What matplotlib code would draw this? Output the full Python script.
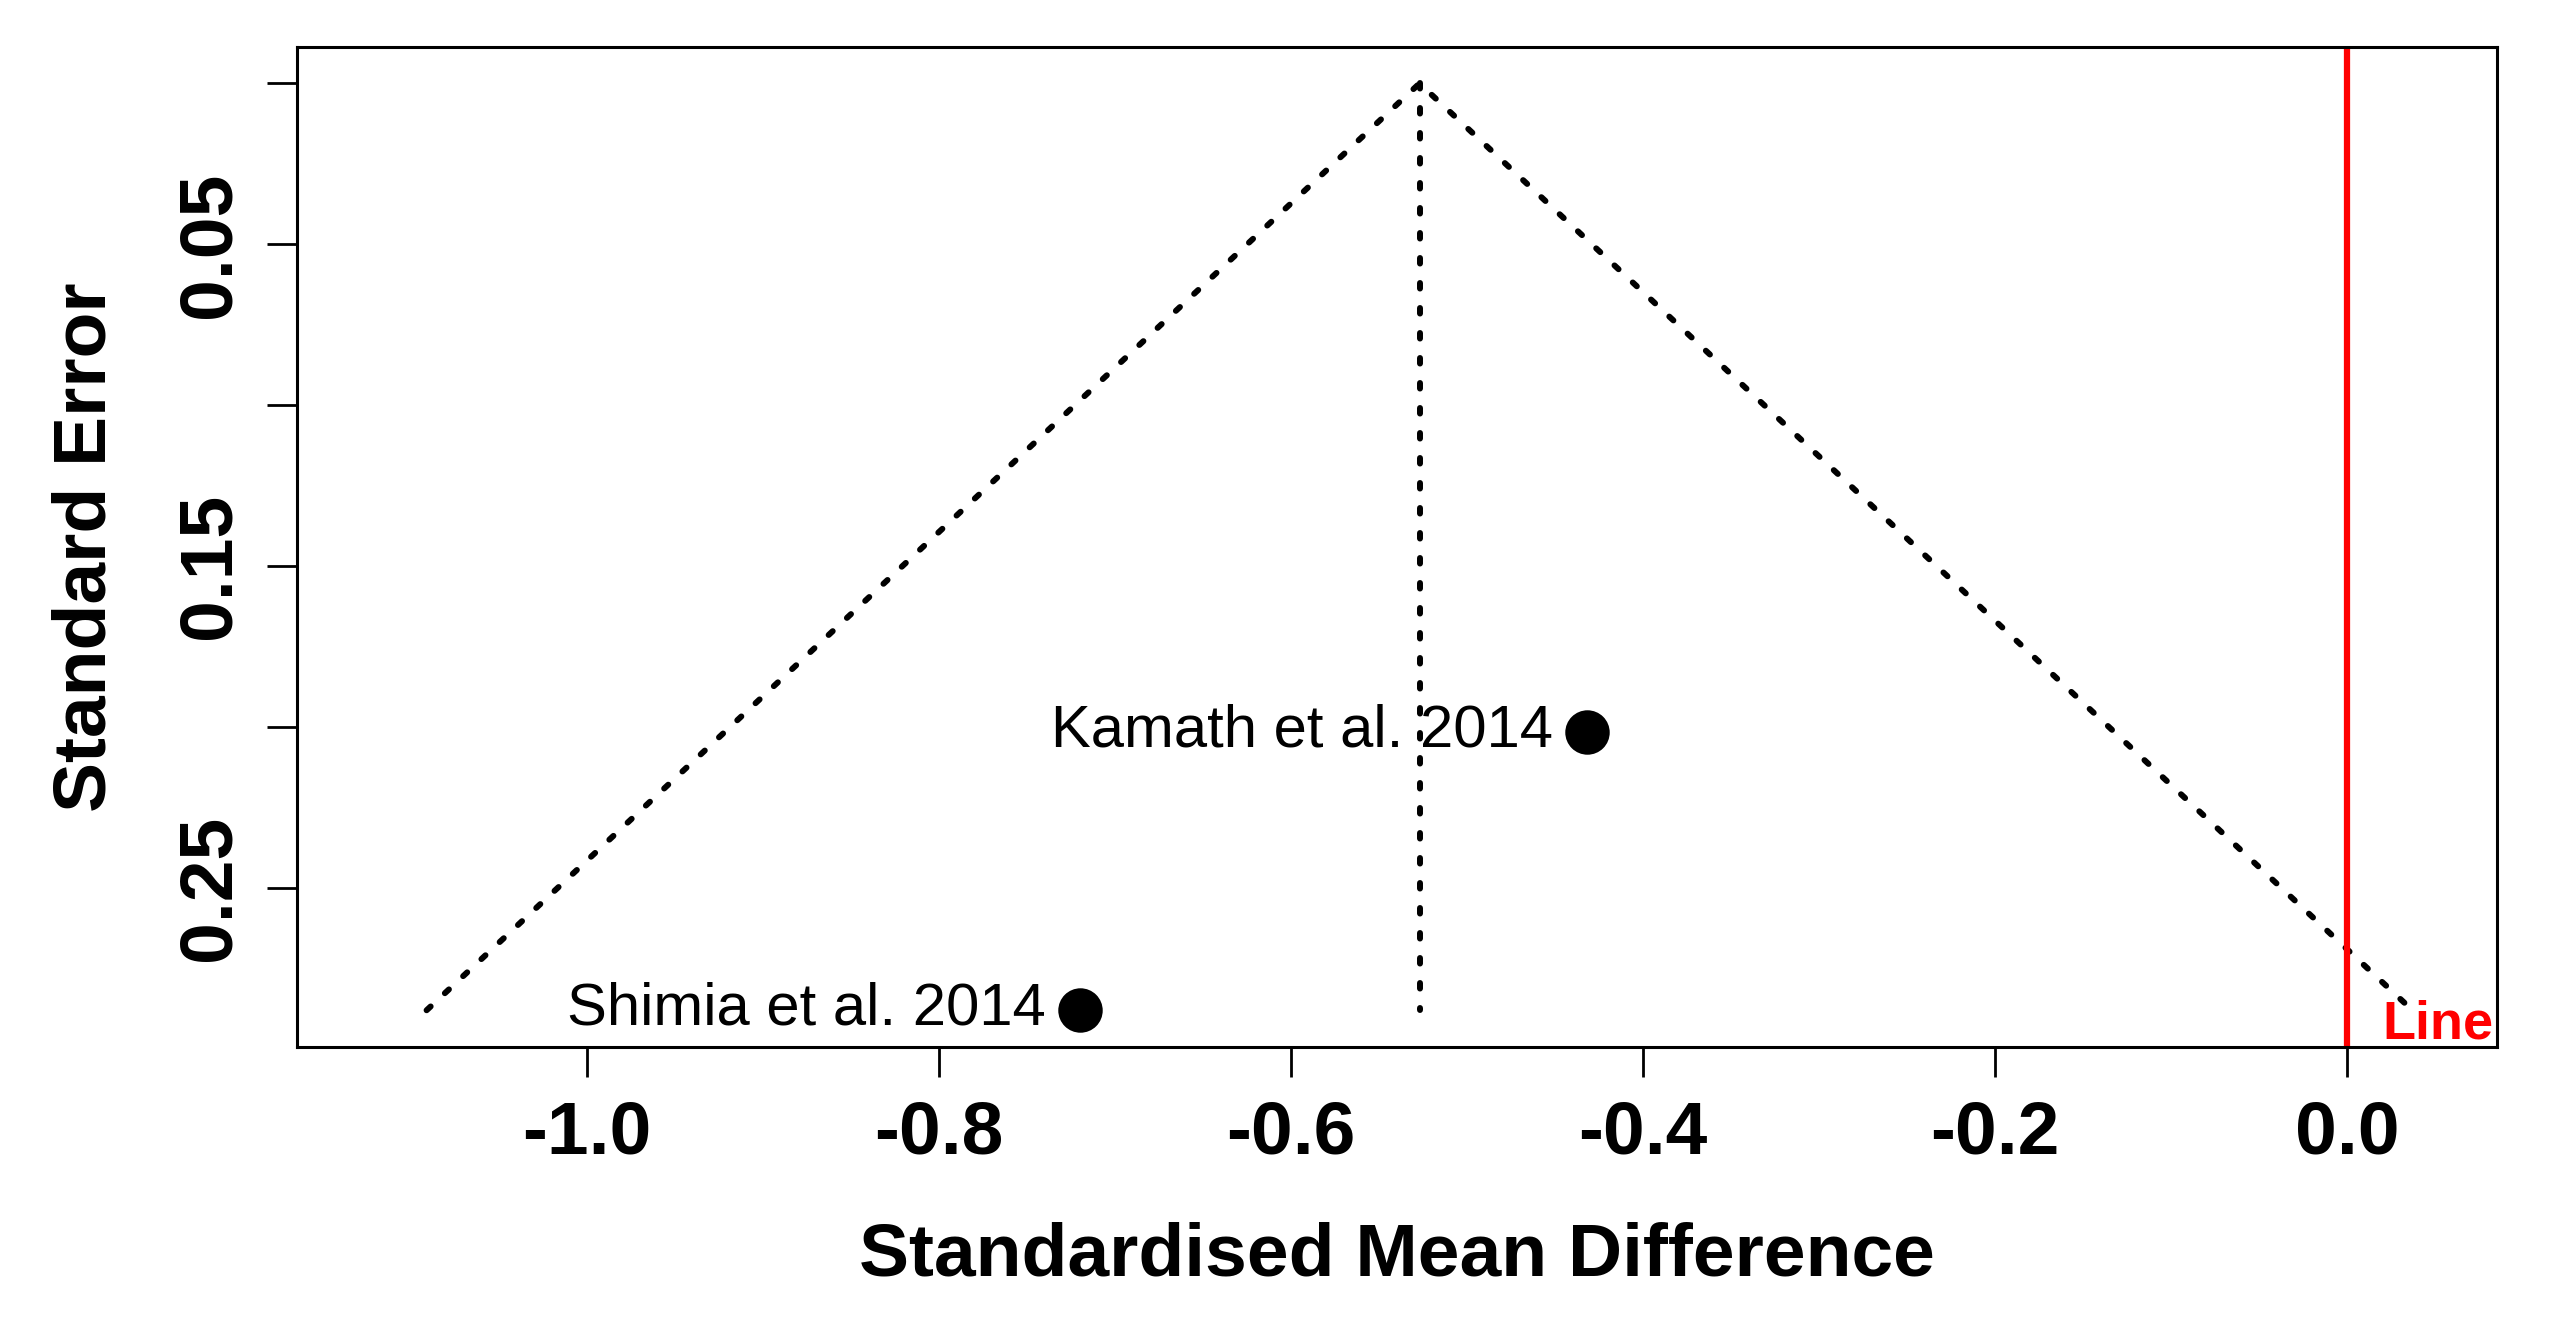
import matplotlib
matplotlib.use("Agg")
import matplotlib.pyplot as plt

plt.rcParams["font.family"] = ["Liberation Sans", "DejaVu Sans"]
plt.rcParams["lines.scale_dashes"] = False

# study data
studies = ["Kamath et al. 2014", "Shimia et al. 2014"]
smd = [-0.432, -0.720]
se = [0.2015, 0.288]

# summary estimate and funnel edges at the largest standard error
estimate = -0.527
se_max = 0.288
funnel_left = -1.091
funnel_right = 0.037

xticks = [-1.0, -0.8, -0.6, -0.4, -0.2, 0.0]
xtick_labels = ["-1.0", "-0.8", "-0.6", "-0.4", "-0.2", "0.0"]
yticks = [0.0, 0.05, 0.10, 0.15, 0.20, 0.25]
ytick_labels = ["", "0.05", "", "0.15", "", "0.25"]

fig = plt.figure(figsize=(25.73, 13.33), dpi=100)
ax = fig.add_axes([0.1153, 0.2146, 0.8552, 0.7501])

dots = (4.0, 14.0)
ax.plot([funnel_left, estimate, funnel_right], [se_max, 0, se_max],
        color="black", lw=4.3, dashes=dots, dash_capstyle="round")
ax.plot([estimate, estimate], [0, se_max],
        color="black", lw=4.3, dashes=dots, dash_capstyle="round")

ax.axvline(0, color="red", lw=4.5)
ax.text(0.0199, 0.2968, "Line", color="red", fontsize=39, fontweight="bold",
        ha="left", va="baseline")

ax.plot(smd, se, "o", color="black", ms=32, mew=0)
for name, x, y in zip(studies, smd, se):
    ax.annotate(name, (x, y), xytext=(-24.5, -10.5), textcoords="offset points",
                ha="right", va="baseline", fontsize=43)

ax.set_xlim(-1.1648, 0.0851)
ax.set_ylim(0.2994, -0.0113)
ax.set_xticks(xticks)
ax.set_xticklabels(xtick_labels)
ax.set_yticks(yticks)
ax.set_yticklabels(ytick_labels, rotation=90, va="center")

ax.tick_params(length=21.6, width=2, pad=16, labelsize=54)
for lab in ax.get_xticklabels() + ax.get_yticklabels():
    lab.set_fontweight("bold")
for sp in ax.spines.values():
    sp.set_linewidth(2.2)

ax.set_xlabel("Standardised Mean Difference", fontsize=54, fontweight="bold")
ax.set_ylabel("Standard Error", fontsize=54, fontweight="bold")
ax.xaxis.label.set_va("baseline")
ax.yaxis.label.set_va("baseline")
ax.xaxis.set_label_coords(0.5, -0.229)
ax.yaxis.set_label_coords(-0.0867, 0.5)

fig.savefig("out.png", dpi=100)
